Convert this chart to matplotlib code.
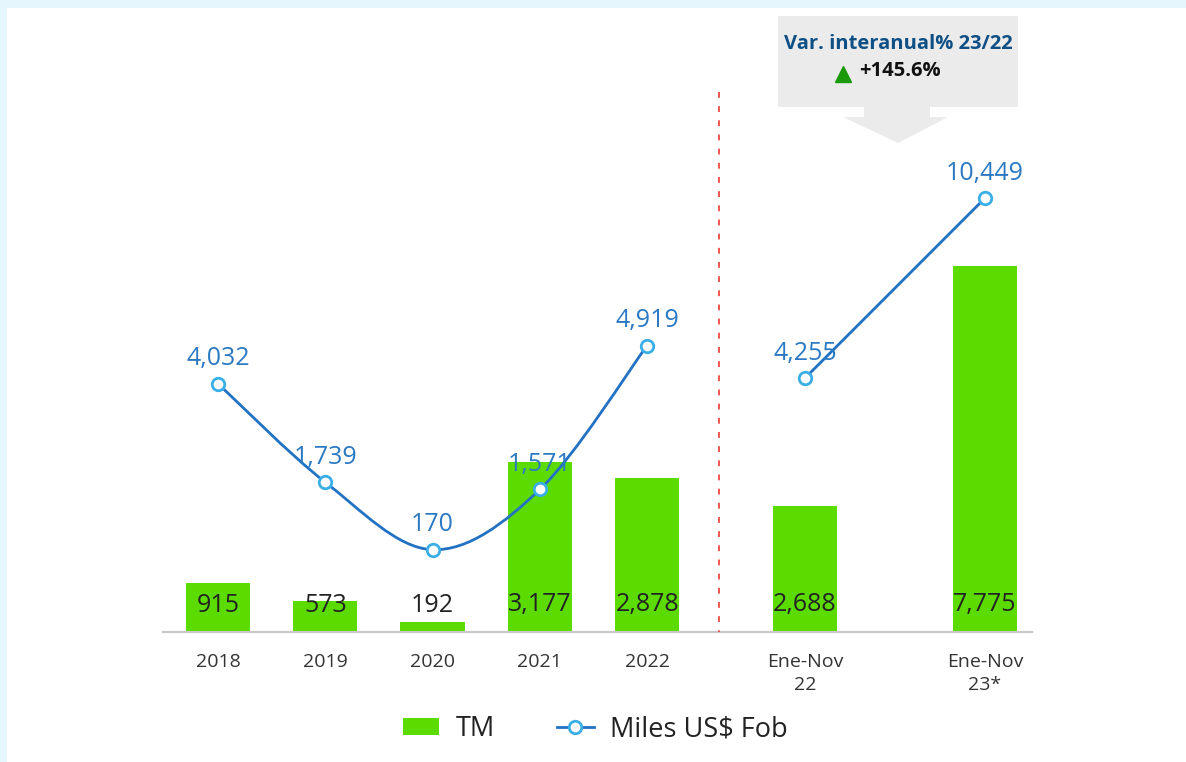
import matplotlib
matplotlib.use('Agg')
import matplotlib.pyplot as plt
from matplotlib.patches import Rectangle, Polygon, Patch, PathPatch
from matplotlib.lines import Line2D
from matplotlib.path import Path

plt.rcParams['font.family'] = ['Open Sans', 'DejaVu Sans']

#######################################################
# Data
years = ['2018', '2019', '2020', '2021', '2022']
tm_years = [915, 573, 192, 3177, 2878]
fob_years = [4032, 1739, 170, 1571, 4919]

periods = ['Ene-Nov\n22', 'Ene-Nov\n23*']
tm_periods = [2688, 7775]
fob_periods = [4255, 10449]

var_title = 'Var. interanual% 23/22'
var_value = '+145.6%'

legend_labels = ['TM', 'Miles US$ Fob']

#######################################################
bar_col = '#5cdb00'
line_col = '#2272c3'
mark_col = '#3aaee6'
lab_col = '#2b79c2'

W, H = 1186, 762
fig = plt.figure(figsize=(W / 100, H / 100), dpi=100)
fig.patch.set_facecolor('#e5f6fd')
fig.patches.append(Rectangle((7 / W, 0), 1, 1 - 8 / H, transform=fig.transFigure,
                             facecolor='white', edgecolor='none', zorder=-5))


def fx(x):
    return x / W


def fy(y):
    return 1 - y / H


def smooth_path(xs, ys):
    # catmull-rom style smoothing like the spreadsheet "smoothed line"
    n = len(xs)
    verts = [(xs[0], ys[0])]
    codes = [Path.MOVETO]
    for i in range(n - 1):
        p0 = (xs[max(i - 1, 0)], ys[max(i - 1, 0)])
        p1 = (xs[i], ys[i])
        p2 = (xs[i + 1], ys[i + 1])
        p3 = (xs[min(i + 2, n - 1)], ys[min(i + 2, n - 1)])
        c1 = (p1[0] + (p2[0] - p0[0]) / 6, p1[1] + (p2[1] - p0[1]) / 6)
        c2 = (p2[0] - (p3[0] - p1[0]) / 6, p2[1] - (p3[1] - p1[1]) / 6)
        verts += [c1, c2, p2]
        codes += [Path.CURVE4] * 3
    return Path(verts, codes)


def style_axes(ax):
    for s in ['top', 'left', 'right']:
        ax.spines[s].set_visible(False)
    ax.spines['bottom'].set_color('#c8c8c8')
    ax.spines['bottom'].set_linewidth(1.5)
    ax.set_yticks([])
    ax.tick_params(axis='x', length=0, pad=15, labelsize=14, labelcolor='#333333')
    ax.patch.set_alpha(0)


def draw_group(rect, labels, tm, fob, xlim, bw, ylim_bar, ylim_line, smooth):
    ax = fig.add_axes(rect)
    x = list(range(len(labels)))
    ax.bar(x, tm, width=bw, color=bar_col, zorder=1)
    ax.set_xlim(xlim)
    ax.set_ylim(ylim_bar)
    ax.set_xticks(x)
    ax.set_xticklabels(labels, linespacing=1.4)
    style_axes(ax)
    for xi, v in zip(x, tm):
        ax.annotate(f'{v:,}', xy=(xi, 0), xytext=(0, 27), textcoords='offset pixels',
                    ha='center', va='center', fontsize=18, color='#222222', zorder=2)

    ax2 = ax.twinx()
    ax2.set_ylim(ylim_line)
    ax2.set_xlim(xlim)
    ax2.axis('off')
    if smooth:
        ax2.add_patch(PathPatch(smooth_path(x, fob), facecolor='none', edgecolor=line_col,
                                lw=2, zorder=3))
    else:
        ax2.plot(x, fob, color=line_col, lw=2, zorder=3)
    ax2.plot(x, fob, 'o', mfc='white', mec=mark_col, ms=9, mew=2, zorder=4)
    for xi, v in zip(x, fob):
        ax2.annotate(f'{v:,}', xy=(xi, v), xytext=(0, 25), textcoords='offset pixels',
                     ha='center', va='center', fontsize=18, color=lab_col, zorder=5)
    return ax, ax2


bottom = fy(632)
height = 612 / H

draw_group([fx(163), bottom, 556 / W, height], years, tm_years, fob_years,
           (-0.513, 4.67), 0.6, (0, 11448), (-1745, 12494), True)
draw_group([fx(719), bottom, 313 / W, height], periods, tm_periods, fob_periods,
           (-0.478, 1.261), 0.356, (0, 13005), (-4484, 16576), False)

# red dashed divider
fig.lines.append(Line2D([fx(719), fx(719)], [fy(92), fy(632)], transform=fig.transFigure,
                        color='#ef3b32', lw=1.2, linestyle=(0, (3.5, 5))))

# variation call-out box with arrow
fig.patches.append(Rectangle((fx(778), fy(107)), (1018 - 778) / W, (107 - 16) / H,
                             transform=fig.transFigure, facecolor='#ebebeb',
                             edgecolor='none'))
arrow_px = [(864, 106), (930, 106), (930, 117), (948, 117), (898, 143), (843, 117), (864, 117)]
fig.patches.append(Polygon([(fx(a), fy(b)) for a, b in arrow_px], closed=True,
                           transform=fig.transFigure, facecolor='#ebebeb', edgecolor='none'))
fig.text(fx(898), fy(44), var_title, ha='center', va='center', fontsize=14.5,
         fontweight='bold', color='#0e4f85')
fig.text(fx(859), fy(71), var_value, ha='left', va='center', fontsize=14.5,
         fontweight='bold', color='#111111')
fig.lines.append(Line2D([fx(843)], [fy(74)], transform=fig.transFigure, marker='^',
                        color='#1a9a0a', ms=11.5, lw=0))

# legend
handles = [Patch(facecolor=bar_col, edgecolor='none'),
           Line2D([], [], color=line_col, lw=2, marker='o', mfc='white', mec=mark_col,
                  ms=9, mew=2)]
fig.legend(handles, legend_labels, loc='center', bbox_to_anchor=(fx(595), fy(729)),
           ncol=2, frameon=False, fontsize=19.5, handlelength=1.35, handleheight=0.62,
           columnspacing=2.3, handletextpad=0.6, labelcolor='#222222')

plt.savefig('out.png', dpi=100)
